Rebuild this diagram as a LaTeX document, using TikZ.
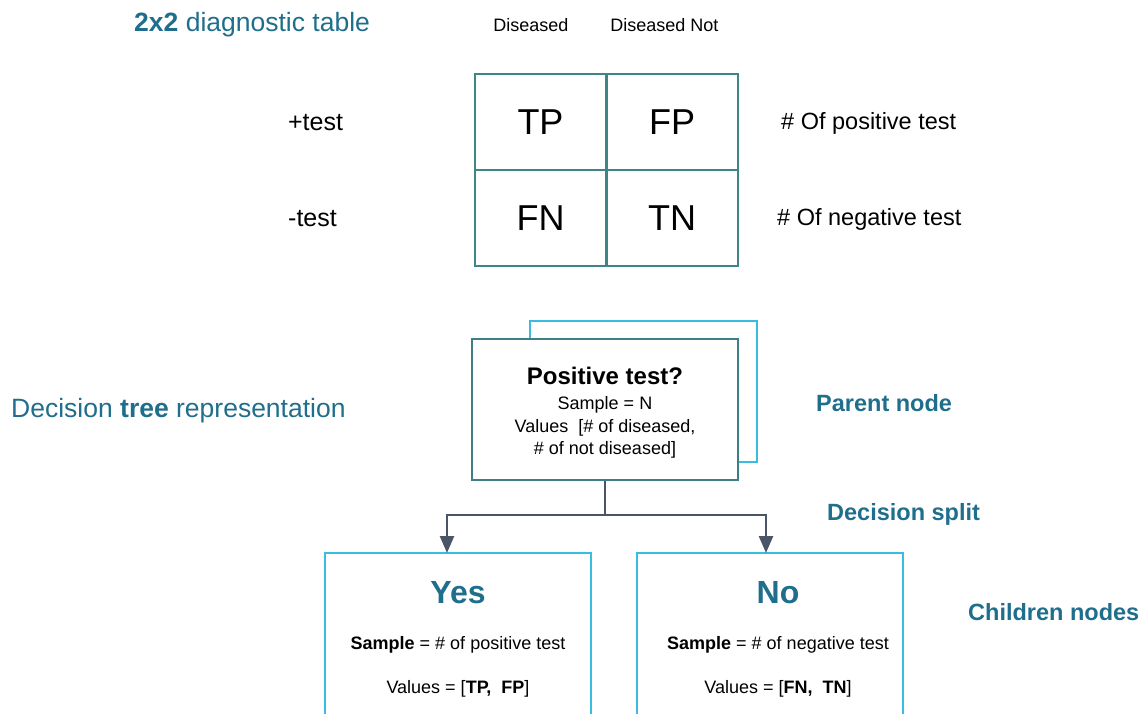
\documentclass[tikz,border=0pt]{standalone}
\usepackage{fontspec}
\setmainfont{Liberation Sans}
\usetikzlibrary{arrows.meta,positioning}
\definecolor{titleteal}{HTML}{1F6E8C}
\definecolor{gridteal}{HTML}{3F8585}
\definecolor{parentteal}{HTML}{3D7F86}
\definecolor{skyline}{HTML}{38BCE0}
\definecolor{splitgray}{HTML}{4A5568}
\newcommand{\fsz}[1]{\fontsize{#1}{#1}\selectfont}
\tikzset{
  plain/.style={inner sep=0pt},
  cell/.style={draw=gridteal, line width=2pt, minimum width=131pt, minimum height=96pt, inner sep=0pt, font=\fsz{36}},
  teallbl/.style={inner sep=0pt, text=titleteal, font=\fsz{23.5}\bfseries},
  parentbox/.style={draw=parentteal, line width=2pt, fill=white, minimum width=266pt, minimum height=141pt, align=center, inner sep=0pt, font=\fontsize{18}{22.5}\selectfont},
  backbox/.style={draw=skyline, line width=2pt, minimum width=227pt, minimum height=141pt},
  childbox/.style={draw=skyline, line width=2pt, minimum width=266pt, minimum height=247pt},
  childhead/.style={inner sep=0pt, text=titleteal, font=\fsz{32}\bfseries},
  childline/.style={inner sep=0pt, font=\fsz{18}},
  splitline/.style={draw=splitgray, line width=2.5pt},
}
\begin{document}
\begin{tikzpicture}[x=1pt,y=-1pt]
  \useasboundingbox (0,0) rectangle (1144,714);
  \clip (0,0) rectangle (1144,714);
  % 2x2 table
  \node[plain, anchor=west, text=titleteal, font=\fsz{26.5}] (title) at (134,25) {\textbf{2x2} diagnostic table};
  \node[plain, font=\fsz{18}] (diseased) at (531,25) {Diseased};
  \node[plain, font=\fsz{18}] (notdiseased) at (664.5,25) {Diseased Not};
  \node[cell] (tp) at (540.5,122) {TP};
  \node[cell] (fp) at (672,122) {FP};
  \node[cell] (fn) at (540.5,218) {FN};
  \node[cell] (tn) at (672,218) {TN};
  \node[plain, font=\fsz{25}] (postest) at (315.5,123) {+test};
  \node[plain, font=\fsz{25}] (negtest) at (312.5,219) {-test};
  \node[plain, anchor=west, font=\fsz{23.5}] (poscount) at (781,123) {\# Of positive test};
  \node[plain, anchor=west, font=\fsz{23.5}] (negcount) at (777,219) {\# Of negative test};
  % decision tree
  \node[plain, anchor=west, text=titleteal, font=\fsz{26.5}] (treetitle) at (11,411) {Decision \textbf{tree} representation};
  \node[backbox] (parentback) at (643.5,391.5) {};
  \node[parentbox] (parent) at (605,409.5) {\rule{0pt}{23.5pt}{\fsz{24}\bfseries Positive test?}\\[3pt]Sample = N\\Values~~[\# of diseased,\\\# of not diseased]};
  \node[teallbl, anchor=west] (parentlbl) at (816,403) {Parent node};
  \node[teallbl, anchor=west] (splitlbl) at (827,514) {Decision split};
  \node[teallbl, anchor=west] (childlbl) at (968,612) {Children nodes};
  \node[childbox] (yes) at (458,676.5) {};
  \node[childbox] (no) at (769.5,676.5) {};
  \node[childhead] (yeshead) at (458,593) {Yes};
  \node[childline] (yessample) at (458,645) {\textbf{Sample} = \# of positive test};
  \node[childline] (yesvalues) at (458,689) {Values = [\textbf{TP,~~FP}]};
  \node[childhead] (nohead) at (778,593) {No};
  \node[childline] (nosample) at (778,645) {\textbf{Sample} = \# of negative test};
  \node[childline] (novalues) at (778,689) {Values = [\textbf{FN,~~TN}]};
  \coordinate (split) at (605,515);
  \coordinate (yesin) at (447,553);
  \coordinate (noin) at (766,553);
  \draw[splitline] (parent.south) -- (split);
  \draw[splitline, -{Triangle[width=14pt,length=17pt]}] (split) -| (yesin);
  \draw[splitline, -{Triangle[width=14pt,length=17pt]}] (split) -| (noin);
\end{tikzpicture}
\end{document}
